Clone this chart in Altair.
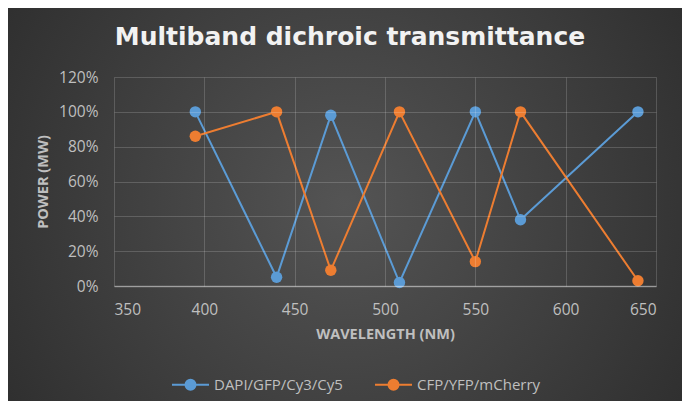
import altair as alt
import pandas as pd

wavelengths = [395, 440, 470, 508, 550, 575, 640]
dapi_vals = [1.00, 0.05, 0.98, 0.02, 1.00, 0.38, 1.00]
cfp_vals = [0.86, 1.00, 0.09, 1.00, 0.14, 1.00, 0.03]
series_names = ["DAPI/GFP/Cy3/Cy5", "CFP/YFP/mCherry"]
series_colors = ["#5B9BD5", "#ED7D31"]
x_ticks = [350, 400, 450, 500, 550, 600, 650]
y_ticks = [0, 0.2, 0.4, 0.6, 0.8, 1.0, 1.2]
title_text = ["Multiband dichroic transmittance"]

df = pd.DataFrame({
    "wavelength": wavelengths * 2,
    "value": dapi_vals + cfp_vals,
    "series": [series_names[0]] * len(wavelengths) + [series_names[1]] * len(wavelengths),
})

W, H = 542, 209
PL, PT, PR, PB = 106, 69, 26, 115
FONT = "Open Sans"
LABEL = "#bfbfbf"

bg = alt.Chart(pd.DataFrame({"a": [0]})).mark_rect(
    fill=alt.Gradient(
        gradient="radial",
        stops=[alt.GradientStop(offset=0, color="#545454"),
               alt.GradientStop(offset=1, color="#252525")],
        x1=0.5, y1=0.5, r1=0, x2=0.5, y2=0.5, r2=0.75,
    ),
).encode(
    x=alt.value(-PL), x2=alt.value(W + PR),
    y=alt.value(-PT), y2=alt.value(H + PB),
)

title = alt.Chart(pd.DataFrame({"t": title_text})).mark_text(
    font="DejaVu Sans", fontSize=25, fontWeight="bold", color="#f2f2f2",
    align="center", baseline="alphabetic",
).encode(text="t:N", x=alt.value(236), y=alt.value(-32))

color = alt.Color(
    "series:N",
    scale=alt.Scale(domain=series_names, range=series_colors),
    legend=alt.Legend(
        title=None, orient="none", direction="horizontal",
        legendX=57, legendY=288,
        symbolType="M-1,0L1,0M-0.27,0A0.27,0.27,0,1,0,0.27,0A0.27,0.27,0,1,0,-0.27,0Z",
        symbolSize=1369, symbolStrokeWidth=2, symbolOpacity=1,
        labelFont=FONT, labelFontSize=15, labelColor=LABEL,
        labelOffset=4, columnPadding=28,
    ),
    sort=series_names,
)

xaxis = alt.Axis(
    values=x_ticks, title="WAVELENGTH (NM)", format="d", zindex=1,
    labelFont=FONT, labelFontSize=15.5, labelColor=LABEL,
    titleFont=FONT, titleFontSize=14.5, titleFontWeight="bold", titleColor=LABEL,
    grid=True, gridColor="#ffffff", gridOpacity=0.17, gridWidth=1, ticks=False,
    domain=True, domainColor="#ffffff", domainOpacity=0.4, domainWidth=1.5,
    labelPadding=16, titlePadding=10,
)
yaxis = alt.Axis(
    values=y_ticks, format=".0%", title="POWER (MW)", zindex=1,
    labelFont=FONT, labelFontSize=15.5, labelColor=LABEL,
    titleFont=FONT, titleFontSize=14.5, titleFontWeight="bold", titleColor=LABEL,
    grid=True, gridColor="#ffffff", gridOpacity=0.17, gridWidth=1, ticks=False,
    domain=False, labelPadding=16, titlePadding=8,
)

xenc = alt.X("wavelength:Q", scale=alt.Scale(domain=[350, 650], nice=False), axis=xaxis)
yenc = alt.Y("value:Q", scale=alt.Scale(domain=[0, 1.2], nice=False), axis=yaxis)

lines = alt.Chart(df).mark_line(strokeWidth=2).encode(
    x=xenc, y=yenc, color=color, detail="series:N")
pts = alt.Chart(df).mark_circle(size=130, opacity=1).encode(
    x=xenc, y=yenc, color=color)

chart = alt.layer(bg, title, lines, pts).properties(
    width=W, height=H,
    autosize=alt.AutoSizeParams(type="none"),
    padding={"left": PL, "top": PT, "right": PR, "bottom": PB},
).configure(background="#333333").configure_view(stroke=None)

chart.save("out.html", embed_options={"renderer": "svg", "actions": False})
